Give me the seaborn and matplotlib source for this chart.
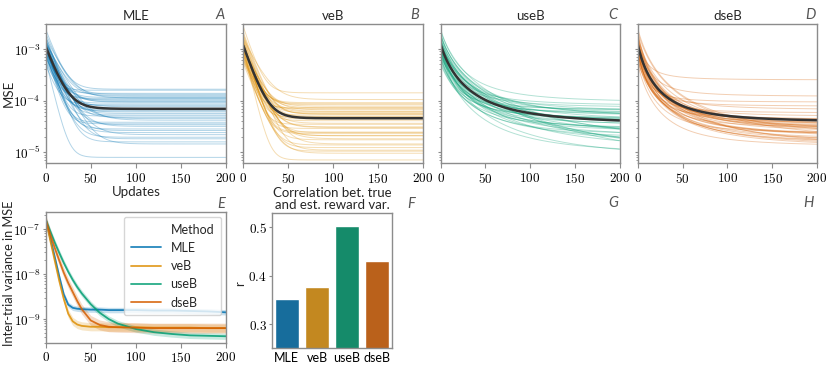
import numpy as np
import pandas as pd
import matplotlib
matplotlib.use("Agg")
import matplotlib.pyplot as plt
import seaborn as sns
from matplotlib.ticker import FuncFormatter, FixedLocator, LogLocator, NullFormatter
from matplotlib.lines import Line2D

# ---------------- data ----------------
methods = ["MLE", "veB", "useB", "dseB"]
updates = np.arange(0, 201)

# per-trial parameters (log10 of MSE at update 0,
# log10 of the late-update floor, and the decay time in updates)
mle_start = [-2.62, -3.05, -2.85, -2.95, -3.20, -2.78, -3.00, -3.12, -2.90, -2.70,
             -3.08, -2.98, -3.25, -2.88, -2.93, -3.02, -2.80, -3.15, -2.97, -3.30,
             -2.84, -3.04, -2.92, -3.10, -2.75, -3.00, -2.96, -3.18, -2.87, -3.06,
             -3.22, -2.91, -2.99, -2.82, -3.13, -2.94, -3.01, -2.89, -3.07, -2.86]
mle_floor = [-3.78, -4.45, -3.92, -4.20, -4.62, -3.95, -4.05, -4.71, -4.30, -3.88,
             -4.12, -4.55, -3.98, -4.38, -4.80, -4.02, -4.25, -3.80, -4.66, -4.08,
             -4.33, -3.94, -4.50, -4.15, -4.74, -4.00, -4.42, -3.90, -4.58, -4.18,
             -5.10, -4.03, -4.28, -4.84, -3.96, -4.47, -4.10, -4.35, -3.86, -4.22]
mle_tau = [9, 7, 11, 8, 10, 12, 8, 9, 7, 10, 11, 8, 9, 13, 8, 10, 9, 7, 12, 8,
           10, 9, 11, 8, 9, 10, 7, 12, 9, 8, 6, 10, 9, 11, 8, 10, 9, 12, 8, 9]

veb_start = [-2.57, -2.95, -3.10, -2.82, -3.00, -2.90, -3.22, -2.78, -3.05, -2.92,
             -2.68, -3.15, -2.98, -2.86, -3.28, -2.94, -3.02, -2.80, -3.12, -2.88,
             -2.96, -3.08, -2.74, -3.18, -2.91, -3.04, -2.84, -3.00, -3.25, -2.89,
             -2.99, -2.72, -3.06, -2.93, -3.14, -2.83, -3.01, -2.97, -2.87, -3.20]
veb_floor = [-3.85, -4.68, -4.14, -4.31, -4.84, -4.04, -4.21, -4.96, -4.46, -4.11,
             -4.26, -4.64, -4.18, -4.54, -5.02, -4.24, -4.39, -3.98, -4.76, -4.28,
             -4.51, -4.16, -4.68, -4.34, -4.91, -4.22, -4.61, -4.08, -4.74, -4.36,
             -5.15, -4.26, -4.44, -4.98, -4.14, -4.62, -4.32, -4.52, -4.06, -4.86]
veb_tau = [8, 10, 7, 9, 11, 8, 12, 9, 7, 10, 9, 8, 11, 7, 10, 9, 8, 12, 9, 7,
           10, 8, 9, 11, 8, 10, 7, 9, 12, 8, 6, 9, 10, 8, 11, 9, 7, 10, 8, 9]

useb_start = [-2.62, -2.90, -3.05, -2.80, -2.98, -3.15, -2.70, -2.93, -3.25, -2.86,
              -3.00, -2.76, -3.10, -2.95, -2.84, -3.20, -2.91, -3.02, -2.66, -2.97,
              -3.08, -2.88, -3.30, -2.82, -2.99, -2.74, -3.12, -2.94, -3.04, -2.79,
              -2.92, -3.18, -2.87, -3.00, -2.72, -3.06, -2.96, -2.83, -3.14, -2.89]
useb_floor = [-4.04, -4.70, -4.24, -4.40, -4.95, -4.18, -4.32, -5.10, -4.55, -4.20,
              -4.38, -4.80, -4.28, -4.62, -5.25, -4.35, -4.48, -4.10, -4.88, -4.43,
              -4.58, -4.30, -4.76, -4.45, -5.05, -4.34, -4.68, -4.22, -4.84, -4.50,
              -5.40, -4.37, -4.52, -5.15, -4.26, -4.72, -4.42, -4.60, -4.14, -4.98]
useb_tau = [14, 18, 12, 16, 20, 13, 15, 22, 17, 11, 14, 19, 16, 13, 21, 15, 12, 17, 18, 14,
            16, 13, 20, 15, 11, 17, 14, 19, 16, 12, 23, 15, 18, 14, 13, 17, 16, 12, 19, 15]

dseb_start = [-2.85, -2.60, -3.00, -2.92, -3.18, -2.78, -3.08, -2.88, -2.70, -3.02,
              -2.95, -3.25, -2.83, -2.98, -3.12, -2.76, -2.90, -3.05, -2.66, -2.94,
              -3.15, -2.81, -3.00, -2.87, -3.22, -2.73, -2.97, -3.10, -2.84, -2.91,
              -3.03, -2.68, -2.99, -3.28, -2.86, -2.93, -3.06, -2.79, -2.96, -3.01]
dseb_floor = [-3.60, -4.71, -4.36, -4.51, -4.88, -3.92, -4.44, -4.91, -4.61, -4.24,
              -4.48, -4.76, -4.41, -4.66, -4.84, -4.46, -4.56, -4.03, -4.80, -4.52,
              -4.64, -4.38, -4.72, -4.54, -4.90, -4.43, -4.68, -4.18, -4.78, -4.58,
              -4.86, -4.49, -4.62, -4.89, -4.31, -4.70, -4.53, -4.60, -4.11, -4.82]
dseb_tau = [10, 13, 8, 12, 15, 9, 11, 14, 10, 8, 12, 16, 9, 11, 13, 10, 12, 8, 14, 11,
            10, 9, 13, 12, 15, 10, 11, 14, 9, 12, 16, 10, 13, 11, 9, 12, 10, 14, 8, 11]

# panel E: inter-trial variance of MSE (log10), read at these updates
var_updates = [0, 5, 10, 15, 20, 25, 30, 35, 40, 50, 60, 70, 80, 100, 120, 140, 160, 180, 200]
var_mle = [-6.79, -7.20, -7.62, -8.05, -8.45, -8.68, -8.75, -8.77, -8.78, -8.79,
           -8.79, -8.80, -8.80, -8.80, -8.81, -8.81, -8.82, -8.83, -8.85]
var_veb = [-6.79, -7.25, -7.70, -8.15, -8.55, -8.88, -9.05, -9.12, -9.15, -9.17,
           -9.17, -9.18, -9.18, -9.18, -9.19, -9.19, -9.19, -9.20, -9.20]
var_useb = [-6.79, -7.05, -7.30, -7.53, -7.75, -7.95, -8.13, -8.29, -8.43, -8.67,
            -8.86, -9.00, -9.10, -9.22, -9.29, -9.33, -9.36, -9.37, -9.38]
var_dseb = [-6.79, -7.12, -7.42, -7.70, -7.97, -8.20, -8.40, -8.60, -8.78, -9.03,
            -9.13, -9.17, -9.18, -9.19, -9.20, -9.20, -9.20, -9.20, -9.20]
var_band = [0.06, 0.09, 0.07, 0.11]   # half-width of the shaded band, decades

# panel F: correlation between true and estimated reward variance
corr_r = [0.352, 0.378, 0.503, 0.430]

# ---------------- style ----------------
sns.set_theme(style="ticks")
plt.rcParams["font.family"] = ["Lato", "DejaVu Sans"]
plt.rcParams["mathtext.fontset"] = "cm"
plt.rcParams["axes.edgecolor"] = "#8c8c8c"
plt.rcParams["axes.linewidth"] = 1.0
plt.rcParams["xtick.color"] = "#8c8c8c"
plt.rcParams["ytick.color"] = "#8c8c8c"
plt.rcParams["xtick.labelcolor"] = "black"
plt.rcParams["ytick.labelcolor"] = "black"

pal = sns.color_palette("colorblind")
mcolors = dict(zip(methods, pal[:4]))

W, H = 830, 369
fig = plt.figure(figsize=(W / 100, H / 100), dpi=100)


def add_ax(left, right, top, bottom):
    return fig.add_axes([left / W, 1 - bottom / H, (right - left) / W, (bottom - top) / H])


log_fmt = FuncFormatter(lambda v, p: r"$\mathrm{10^{%d}}$" % int(np.round(np.log10(v))))
num_fmt = FuncFormatter(lambda v, p: r"$\mathrm{%g}$" % v)
TICK = 9.5


def style_ticks(ax):
    ax.tick_params(axis="x", labelsize=TICK, length=3.5, width=0.8, pad=2)
    ax.tick_params(axis="y", labelsize=TICK, length=2.5, width=0.8, pad=1)
    ax.tick_params(axis="y", which="minor", length=1.5, width=0.6)


def trial_frame(start, floor, tau, shape):
    rows = []
    for k, (s, f, t) in enumerate(zip(start, floor, tau)):
        s, f = 10.0 ** s, 10.0 ** f
        if shape == "exp":
            frac = np.exp(-updates / t)
        else:
            frac = (1 + updates / t) ** -2.0
        rows.append(pd.DataFrame({"Trial": k, "Update": updates, "MSE": f + (s - f) * frac}))
    return pd.concat(rows, ignore_index=True)


trial_sets = {
    "MLE": trial_frame(mle_start, mle_floor, mle_tau, "exp"),
    "veB": trial_frame(veb_start, veb_floor, veb_tau, "exp"),
    "useB": trial_frame(useb_start, useb_floor, useb_tau, "pow"),
    "dseB": trial_frame(dseb_start, dseb_floor, dseb_tau, "pow"),
}

top_x = [(45.7, 226.0), (243.3, 423.0), (440.7, 619.5), (637.7, 817.0)]
letters_top = ["A", "B", "C", "D"]
letter_xy_top = [(220, 15), (415, 15), (613, 15), (810, 15)]

for i, m in enumerate(methods):
    ax = add_ax(top_x[i][0], top_x[i][1], 24.3, 163.3)
    df = trial_sets[m]
    sns.lineplot(data=df, x="Update", y="MSE", units="Trial", estimator=None,
                 color=mcolors[m], alpha=0.3, lw=0.7, ax=ax, legend=False)
    sns.lineplot(data=df, x="Update", y="MSE", estimator="mean", errorbar=None,
                 color="#333333", lw=1.8, ax=ax, legend=False)
    ax.set_yscale("log")
    ax.set_ylim(6.1e-6, 3.0e-3)
    ax.set_xlim(0, 200)
    ax.yaxis.set_major_locator(LogLocator(base=10, numticks=10))
    ax.yaxis.set_major_formatter(log_fmt)
    ax.yaxis.set_minor_formatter(NullFormatter())
    ax.xaxis.set_major_locator(FixedLocator([0, 50, 100, 150, 200]))
    ax.xaxis.set_major_formatter(num_fmt)
    style_ticks(ax)
    ax.set_title(m, fontsize=9.5, pad=3)
    ax.set_ylabel("MSE" if i == 0 else "", fontsize=9.5)
    ax.set_xlabel("Updates" if i == 0 else "", fontsize=9.5, labelpad=1)
    if i == 0:
        ax.yaxis.set_label_coords((15 - 45.7) / 180.3, 0.5)
    if i > 0:
        ax.tick_params(labelleft=False)
    fig.text(letter_xy_top[i][0] / W, 1 - letter_xy_top[i][1] / H, letters_top[i],
             fontsize=10.5, style="italic", color="#555555", ha="center", va="center")

# ---------------- panel E ----------------
axE = add_ax(45.7, 226.0, 211.7, 342.7)
var_logs = dict(zip(methods, [var_mle, var_veb, var_useb, var_dseb]))
rows = []
for m, w in zip(methods, var_band):
    lv = np.array(var_logs[m])
    for off in (-w, 0.0, w):
        rows.append(pd.DataFrame({"Method": m, "Update": var_updates, "Variance": 10.0 ** (lv + off)}))
dfE = pd.concat(rows, ignore_index=True)
sns.lineplot(data=dfE, x="Update", y="Variance", hue="Method", hue_order=methods,
             palette=mcolors, estimator="median", errorbar=("pi", 100),
             lw=1.3, alpha=0.85, err_kws={"alpha": 0.22, "lw": 0}, ax=axE, legend=False)
axE.set_yscale("log")
axE.set_ylim(3.0e-10, 2.4e-7)
axE.set_xlim(0, 200)
axE.yaxis.set_major_locator(LogLocator(base=10, numticks=10))
axE.yaxis.set_major_formatter(log_fmt)
axE.yaxis.set_minor_formatter(NullFormatter())
axE.xaxis.set_major_locator(FixedLocator([0, 50, 100, 150, 200]))
axE.xaxis.set_major_formatter(num_fmt)
style_ticks(axE)
axE.set_xlabel("")
axE.set_ylabel("Inter-trial variance in MSE", fontsize=9.2)
axE.yaxis.set_label_coords((15 - 45.7) / 180.3, 0.53)
handles = [Line2D([], [], color="none")] + [Line2D([], [], color=mcolors[m], lw=1.3, alpha=0.85) for m in methods]
labels = ["Method"] + methods
leg = axE.legend(handles, labels, loc="upper right", fontsize=9, frameon=True,
                 handlelength=2.4, labelspacing=0.5, borderpad=0.55, handletextpad=0.8,
                 fancybox=True, framealpha=0.8, borderaxespad=0.4)
leg.get_frame().set_edgecolor("#cccccc")
fig.text(221 / W, 1 - 204 / H, "E", fontsize=10.5, style="italic", color="#555555",
         ha="center", va="center")

# ---------------- panel F ----------------
axF = add_ax(271.7, 392.3, 213.3, 347.7)
dfF = pd.DataFrame({"Method": methods, "r": corr_r})
sns.barplot(data=dfF, x="Method", y="r", hue="Method", order=methods, hue_order=methods,
            palette=mcolors, ax=axF, legend=False, width=0.8)
axF.set_ylim(0.252, 0.529)
axF.yaxis.set_major_locator(FixedLocator([0.3, 0.4, 0.5]))
axF.yaxis.set_major_formatter(num_fmt)
axF.tick_params(axis="y", labelsize=TICK, length=2.5, width=0.8, pad=1)
axF.tick_params(axis="x", labelsize=9, length=0, pad=3)
axF.set_xlabel("")
axF.set_ylabel("r", fontsize=9.5)
axF.yaxis.set_label_coords((246 - 271.7) / 120.6, 0.48)
axF.set_title("Correlation bet. true\nand est. reward var.", fontsize=9.5, pad=3, linespacing=1.05)
fig.text(411 / W, 1 - 204 / H, "F", fontsize=10.5, style="italic", color="#555555",
         ha="center", va="center")
fig.text(613 / W, 1 - 203 / H, "G", fontsize=10.5, style="italic", color="#555555",
         ha="center", va="center")
fig.text(808 / W, 1 - 203 / H, "H", fontsize=10.5, style="italic", color="#555555",
         ha="center", va="center")

fig.savefig("out.png", dpi=100)
